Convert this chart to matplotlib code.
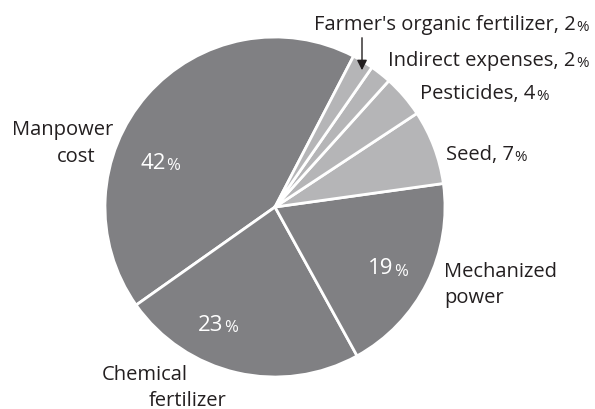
import matplotlib.pyplot as plt
import numpy as np

plt.rcParams['font.family'] = 'Open Sans'

# data, counterclockwise from the top
labels = ["Manpower cost", "Chemical fertilizer", "Mechanized power", "Seed",
          "Pesticides", "Indirect expenses", "Farmer's organic fertilizer"]
shares = [42, 23, 19, 7, 4, 2, 2]
dark = "#808083"
light = "#b5b5b7"
colors = [dark, dark, dark, light, light, light, light]

W, H = 595, 410
fig = plt.figure(figsize=(W / 100, H / 100), dpi=100)
ax = fig.add_axes([0, 0, 1, 1])

cx, cy, r = 275, H - 208, 170
wedges, _ = ax.pie(shares, colors=colors, startangle=62.5, counterclock=True,
                   center=(cx, cy), radius=r, frame=True,
                   wedgeprops=dict(edgecolor='white', linewidth=2))
ax.set_xlim(0, W)
ax.set_ylim(0, H)
ax.set_aspect('equal')
ax.axis('off')

FS = 14.5
INK = '#231f20'


def pct_text(x, y, head, val, color=INK, ha='left', fs=FS, gap=0.3):
    # number in normal size, percent sign smaller
    t = ax.text(x, H - y, head + str(val), fontsize=fs, color=color,
                ha=ha, va='center')
    ax.annotate('%', xy=(1, 0), xycoords=t, xytext=(gap, 0),
                textcoords='offset points', fontsize=fs * 0.75,
                color=color, ha='left', va='bottom')
    return t


# inner percentages
for (x, y), val in zip([(153, 164), (211, 326), (381, 269)], shares[:3]):
    pct_text(x, y, '', val, color='white', ha='center', fs=16, gap=0.1)

# outer labels
txt = dict(fontsize=FS, color=INK, va='center')
ax.text(12, H - 130, "Manpower", ha='left', **txt)
ax.text(57, H - 157, "cost", ha='left', **txt)
ax.text(102, H - 375, "Chemical", ha='left', **txt)
ax.text(149, H - 401, "fertilizer", ha='left', **txt)
ax.text(444, H - 272, "Mechanized", ha='left', **txt)
ax.text(444, H - 298, "power", ha='left', **txt)
pct_text(446, 155, "Seed, ", shares[3])
pct_text(420, 94, "Pesticides, ", shares[4])
pct_text(388, 61, "Indirect expenses, ", shares[5])
pct_text(314, 25, "Farmer's organic fertilizer, ", shares[6])

ax.annotate('', xy=(362, H - 74), xytext=(362, H - 36),
            arrowprops=dict(arrowstyle='-|>', color=INK, lw=1,
                            mutation_scale=15))

fig.savefig("out.png", dpi=100)
